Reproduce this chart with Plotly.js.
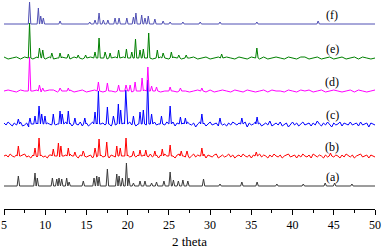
<!DOCTYPE html>
<html><head><meta charset="utf-8">
<script src="https://cdn.plot.ly/plotly-3.0.1.min.js"></script>
<style>html,body{margin:0;padding:0;background:#fff}#chart{width:382px;height:249px}</style>
</head><body><div id="chart"></div>
<script>
// ---- data (heights in arbitrary units) ----
const seriesNames = ['(a)','(b)','(c)','(d)','(e)','(f)'];
const xTickVals = [5,10,15,20,25,30,35,40,45,50];
const xTitle = '2 theta';

const peaksA_x = [6.74,8.76,9.04,10.87,11.4,11.67,12.0,12.6,12.9,14.62,15.92,16.25,16.53,17.54,18.68,18.96,19.36,19.85,20.15,20.7,21.5,22.1,22.9,23.5,24.4,25.15,25.55,26.15,26.7,27.3,29.2,31.2,33.85,35.7,38.1,41.3,43.96,45.1,47.2];
const peaksA_h = [10,13,8,8,7,8,7,8,4,5,8,10,9,17,12,10,8,23,8,3,5,5,3,4,5,14,6,5,6,5,7,2,4,4,2,2,3,3,2];

const peaksB_x = [6.74,8.76,9.25,10.98,11.6,11.9,12.8,13.6,14.6,16.04,16.53,17.46,18.68,19.1,19.8,20.7,21.5,22.2,23.3,24.2,25.15,26.5,27.2,29.0,35.6,44.6];
const peaksB_h = [10,8,18,7,13,10,8,4,5,8,17,14,10,8,18,5,6,6,5,7,11,5,5,8,4,3];

const peaksC_x = [6.74,8.15,8.76,9.25,9.57,9.97,10.98,11.8,12.05,12.8,13.6,14.8,16.04,16.45,17.54,18.27,18.87,19.15,19.77,20.7,21.5,21.9,22.43,22.9,24.1,25.15,26.4,27.0,29.0,31.2,33.85,35.7];
const peaksC_h = [5,6,8,18,10,8,10,13,10,13,6,6,12,33,17,8,20,14,34,8,12,14,44,10,8,18,7,6,10,6,6,7];

const peaksD_x = [8.1,9.3,9.7,11.8,12.8,16.45,17.54,18.9,19.8,20.3,20.9,21.75,22.45,22.9,23.5,25.15,26.4,29.0];
const peaksD_h = [34,6,3,3,3,9,8,6,6,6,9,13,24,5,4,4,3,3];

const peaksE_x = [8.1,9.3,9.7,10.8,11.8,12.8,14.0,14.9,16.04,16.53,17.26,17.87,18.9,19.85,20.5,20.95,21.5,21.9,22.55,23.6,24.3,25.3,26.2,27.1,31.4,35.67];
const peaksE_h = [35,10,8,5,5,4,3,3,6,20,6,5,8,9,6,19,8,9,25,8,5,6,3,3,4,10];

const peaksF_x = [8.1,9.17,9.45,9.77,11.8,15.4,16.04,16.53,17.05,17.6,18.47,18.96,19.9,20.7,21.0,21.7,22.1,22.5,23.3,24.3,25.15,26.7,28.8,31.2,35.67,43.1];
const peaksF_h = [22,16,8,6,3,2,4,11,4,4,6,6,6,7,11,9,6,8,5,3,2,2,2,2,2,3];

// background roughness (step 0.25 deg for b, c; 0.5 deg for d, e)
const noiseB = [0,1,-1,2,0,-1,1,-2,0,1,2,-1,0,-2,1,0,-1,2,1,-1,
0,-2,1,1,-1,0,2,-1,-2,0,1,-1,2,0,-1,1,-2,1,0,2,
-1,0,1,-2,2,-1,0,1,-1,0,2,-2,1,0,-1,1,2,-1,0,-2,
1,-1,0,2,-1,1,-2,0,1,0,-1,2,-1,0,1,-2,1,-1,2,0,
-1,1,0,-2,1,2,-1,0,-1,1,-2,0,2,-1,1,0,-1,2,-2,1,
0,-1,1,2,-2,0,1,-1,0,2,-1,1,-2,0,1,-1,2,0,-1,1,
-2,1,0,-1,2,-1,1,0,-2,1,-1,2,0,-1,1,-2,0,1,2,-1,
0,1,-2,1,-1,2,0,-1,1,-2,2,0,-1,1,0,-2,1,-1,2,0,
-1,1,0,-2,1,-1,2,0,-1,1,-2,0,1,2,-1,0,1,-2,1,0,-1];
const noiseC = [1,-1,2,0,-2,1,-1,0,2,-2,-1,1,-3,-1,0,-2,1,-1,2,0,
-2,1,0,-1,2,-1,0,-3,1,0,2,-1,1,-2,0,1,-1,2,-2,0,
1,-2,0,2,-1,1,-3,0,1,-1,2,0,-2,1,-1,3,0,-1,1,-2,
0,2,-1,1,-2,0,1,-1,3,-1,0,-2,1,2,-1,0,-3,1,-1,2,
-1,0,2,-2,1,-1,0,1,-2,2,0,-1,1,-3,0,2,-1,1,-2,0,
2,-1,0,1,-2,3,-1,0,-2,1,-1,2,0,-1,1,-2,0,2,-3,1,
-1,0,2,-1,1,-2,0,1,-1,3,-2,0,1,-1,2,-2,0,1,-3,0,
2,-1,1,-2,0,2,-1,0,1,-2,1,-1,3,0,-2,1,-1,2,0,-3,
1,-1,0,2,-2,1,0,-1,2,-1,0,1,-2,2,-1,0,1,-3,1,0,-1];
const noiseD = [0,1,0,-1,1,0,-1,0,1,-1,0,1,1,-1,0,0,1,-1,0,1,
-1,0,1,0,-1,1,0,-1,1,0,0,-1,1,0,1,-1,0,1,-1,0,
1,0,-1,1,0,-1,0,1,0,-1,1,-1,0,1,0,-1,1,0,-1,1,
0,-1,0,1,-1,1,0,0,-1,1,0,-1,1,0,1,-1,0,1,-1,0,
1,0,-1,0,1,-1,1,0,-1,0,1];
const noiseE = [1,-1,0,1,-1,1,0,-1,1,0,-1,1,-1,0,1,0,-1,1,0,-1,
0,1,-1,1,0,-1,0,1,-1,1,0,-1,1,0,-1,1,-1,0,1,0,
-1,1,0,-1,1,0,1,-1,0,1,-1,0,1,-1,1,0,-1,1,0,-1,
1,0,-1,1,-1,0,1,0,-1,1,0,-1,1,1,-1,0,1,-1,0,1,
-1,0,1,-1,0,1,-1,1,0,-1,0];

// ---- styling / layout (not data) ----
const offsets = [23,53,85,118,151,185];
const colors = ['#3a3a3a','#ff0000','#0000ff','#ff00ff','#008000','#5050b4'];
const halfW = 0.15;
const xMin = 5, xMax = 50;

function build(px, ph, noise, step, off){
  const pts = [];
  if (noise){
    for (let i=0;i<noise.length;i++){
      const x = xMin + i*step;
      if (px.some(p => Math.abs(p-x) < halfW)) continue;
      pts.push([x, noise[i]]);
    }
  } else {
    pts.push([xMin,0]); pts.push([xMax,0]);
  }
  for (let k=0;k<px.length;k++){
    pts.push([px[k]-halfW,0]); pts.push([px[k],ph[k]]); pts.push([px[k]+halfW,0]);
  }
  pts.sort((a,b)=>a[0]-b[0]);
  return {x: pts.map(p=>p[0]), y: pts.map(p=>p[1]+off)};
}

const sets = [
  [peaksA_x,peaksA_h,null,0],
  [peaksB_x,peaksB_h,noiseB,0.25],
  [peaksC_x,peaksC_h,noiseC,0.25],
  [peaksD_x,peaksD_h,noiseD,0.5],
  [peaksE_x,peaksE_h,noiseE,0.5],
  [peaksF_x,peaksF_h,null,0]
];

const traces = sets.map((s,i)=>{
  const d = build(s[0],s[1],s[2],s[3],offsets[i]);
  return {x:d.x, y:d.y, type:'scatter', mode:'lines', name:seriesNames[i],
          line:{color:colors[i], width:1}, hoverinfo:'skip'};
});

const serif = 'Liberation Serif, Times New Roman, serif';
const annotations = seriesNames.map((n,i)=>({
  x:44.8, y:offsets[i]+9, text:n, showarrow:false, xanchor:'center', yanchor:'middle',
  font:{family:serif, size:12, color:'#000'}
}));

const layout = {
  width:382, height:249,
  margin:{l:4, r:7, t:0, b:40},
  paper_bgcolor:'#fff', plot_bgcolor:'#fff',
  showlegend:false,
  xaxis:{range:[xMin,xMax], tickvals:xTickVals, ticktext:xTickVals.map(String),
    showline:true, linecolor:'#000', linewidth:1, ticks:'outside', ticklen:5, tickwidth:1, tickcolor:'#000',
    minor:{ticks:'outside', ticklen:3, tickcolor:'#000', tickwidth:1, tick0:7.5, dtick:5, showgrid:false},
    showgrid:false, zeroline:false,
    tickfont:{family:serif, size:12, color:'#000'},
    title:{text:xTitle, font:{family:serif, size:13, color:'#000'}, standoff:6}},
  yaxis:{visible:false, range:[0,209], fixedrange:true},
  annotations:annotations
};

Plotly.newPlot('chart', traces, layout, {staticPlot:true, displayModeBar:false});
</script></body></html>
